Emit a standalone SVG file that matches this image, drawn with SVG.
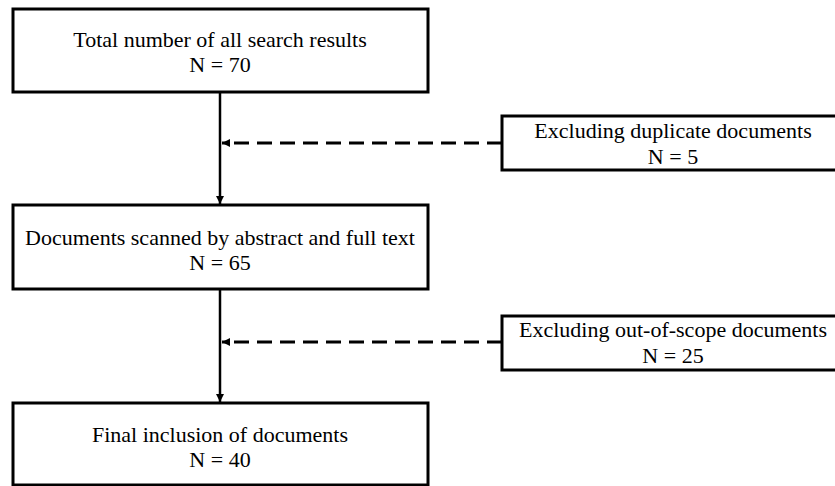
<svg xmlns="http://www.w3.org/2000/svg" width="835" height="486" viewBox="0 0 835 486">
<defs>
<style>
.box{fill:#fff;stroke:#000;stroke-width:3}
.t{font-family:"Liberation Serif","Times New Roman",serif;font-size:22px;fill:#000;text-anchor:middle}
.solid{stroke:#000;stroke-width:2.5;fill:none}
.dash{stroke:#000;stroke-width:3;fill:none;stroke-dasharray:15 8}
</style>
<marker id="ah" viewBox="0 0 10 10" refX="10" refY="5" markerWidth="8" markerHeight="8" markerUnits="userSpaceOnUse" orient="auto">
<path d="M0,0 L10,5 L0,10 Z" fill="#000"/>
</marker>
</defs>
<rect width="835" height="486" fill="#fff"/>
<g id="connectors">
<line class="solid" x1="220" y1="92" x2="220" y2="204" marker-end="url(#ah)"/>
<line class="solid" x1="220" y1="289" x2="220" y2="402" marker-end="url(#ah)"/>
<line class="dash" x1="502" y1="143" x2="222" y2="143" marker-end="url(#ah)"/>
<line class="dash" x1="502" y1="342" x2="222" y2="342" marker-end="url(#ah)"/>
</g>
<g id="n1">
<rect class="box" x="13" y="9" width="415" height="83"/>
<text class="t" x="220" y="47">Total number of all search results</text>
<text class="t" x="220" y="72">N = 70</text>
</g>
<g id="n2">
<rect class="box" x="502" y="116" width="336" height="54"/>
<text class="t" x="673" y="138">Excluding duplicate documents</text>
<text class="t" x="673" y="164">N = 5</text>
</g>
<g id="n3">
<rect class="box" x="13" y="205" width="415" height="84"/>
<text class="t" x="220" y="245">Documents scanned by abstract and full text</text>
<text class="t" x="220" y="270">N = 65</text>
</g>
<g id="n4">
<rect class="box" x="502" y="316" width="336" height="54"/>
<text class="t" x="673" y="337">Excluding out-of-scope documents</text>
<text class="t" x="673" y="363">N = 25</text>
</g>
<g id="n5">
<rect class="box" x="13" y="403" width="415" height="82"/>
<text class="t" x="220" y="442">Final inclusion of documents</text>
<text class="t" x="220" y="467">N = 40</text>
</g>
</svg>
